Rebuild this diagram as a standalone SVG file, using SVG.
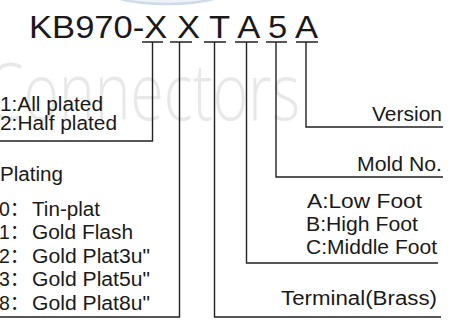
<svg xmlns="http://www.w3.org/2000/svg" width="450" height="326" viewBox="0 0 450 326">
<style>
.t{font-family:"Liberation Sans","Noto Sans CJK SC",Arial,sans-serif;fill:#1a1a1a;font-size:19.5px}
.ln{stroke:#222;stroke-width:1.4;fill:none}
.wm{font-family:"Open Sans","Noto Sans",sans-serif;font-weight:300;fill:#e8e8e8;font-size:58px}
</style>
<rect width="450" height="326" fill="#fff"/>
<ellipse cx="167" cy="-14" rx="68" ry="18" fill="#eef2f8" stroke="#cfdbeb" stroke-width="2.5"/>
<text class="wm" x="-14" y="0" transform="translate(0 120) scale(1 1.38)" textLength="314" lengthAdjust="spacingAndGlyphs">Connectors</text>
<g id="title">
<text class="t" x="29" y="38" style="font-size:32px" textLength="289" lengthAdjust="spacingAndGlyphs">KB970-X X T A 5 A</text>
</g>
<g id="connectors" class="ln">
<path d="M142 42H163M170 42H192M204 42H226M235 42H258M266 42H287M296 42H318"/>
<path d="M152.5 42V141H0"/>
<path d="M179.5 42V317H0"/>
<path d="M214.5 42V317H441"/>
<path d="M246.5 42V263H438"/>
<path d="M276 42V177H443"/>
<path d="M306 42V127H443"/>
</g>
<g id="plated-type">
<text class="t" x="0" y="111" textLength="103" lengthAdjust="spacingAndGlyphs">1:All plated</text>
<text class="t" x="0" y="130" textLength="117" lengthAdjust="spacingAndGlyphs">2:Half plated</text>
</g>
<g id="plating">
<text class="t" x="0" y="181" textLength="63" lengthAdjust="spacingAndGlyphs">Plating</text>
<text class="t" x="-1" y="216">0：</text><text class="t" x="32" y="216" textLength="68" lengthAdjust="spacingAndGlyphs">Tin-plat</text>
<text class="t" x="-1" y="239">1：</text><text class="t" x="32" y="239" textLength="101" lengthAdjust="spacingAndGlyphs">Gold Flash</text>
<text class="t" x="-1" y="263">2：</text><text class="t" x="32" y="263" textLength="118" lengthAdjust="spacingAndGlyphs">Gold Plat3u"</text>
<text class="t" x="-1" y="286">3：</text><text class="t" x="32" y="286" textLength="118" lengthAdjust="spacingAndGlyphs">Gold Plat5u"</text>
<text class="t" x="-1" y="310">8：</text><text class="t" x="32" y="310" textLength="118" lengthAdjust="spacingAndGlyphs">Gold Plat8u"</text>
</g>
<g id="version">
<text class="t" x="372" y="121" textLength="70" lengthAdjust="spacingAndGlyphs">Version</text>
</g>
<g id="mold">
<text class="t" x="357" y="171" textLength="85" lengthAdjust="spacingAndGlyphs">Mold No.</text>
</g>
<g id="foot">
<text class="t" x="307" y="208" textLength="115" lengthAdjust="spacingAndGlyphs">A:Low  Foot</text>
<text class="t" x="306" y="231" textLength="112" lengthAdjust="spacingAndGlyphs">B:High Foot</text>
<text class="t" x="306" y="254" textLength="131" lengthAdjust="spacingAndGlyphs">C:Middle Foot</text>
</g>
<g id="terminal">
<text class="t" x="281" y="305" textLength="156" lengthAdjust="spacingAndGlyphs">Terminal(Brass)</text>
</g>
</svg>
